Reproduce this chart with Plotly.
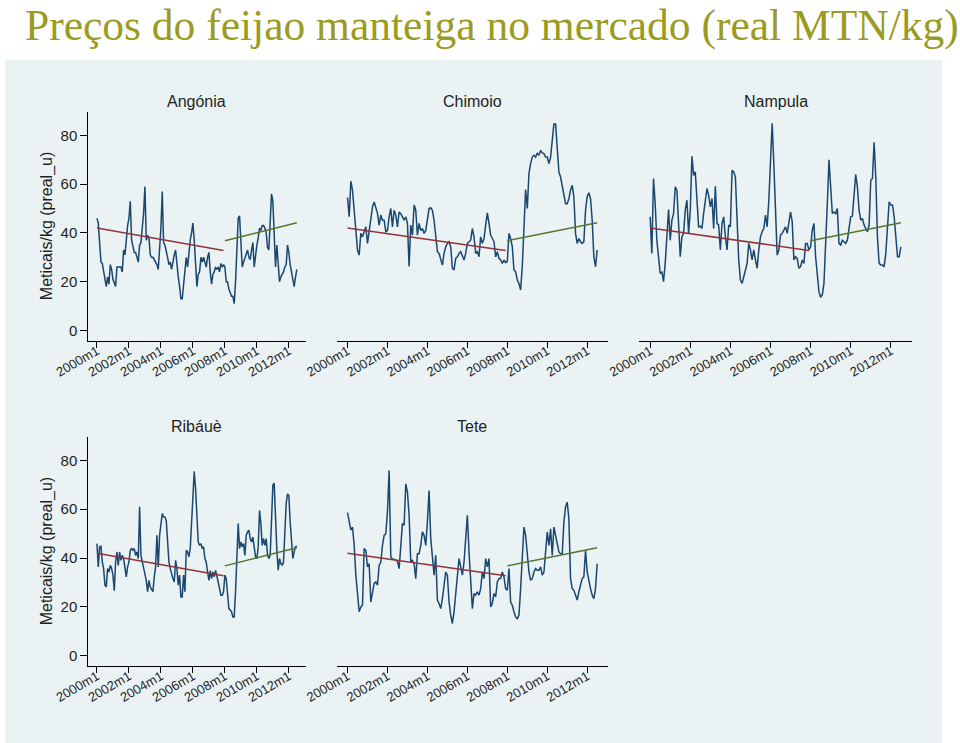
import plotly.graph_objects as go

# ---------------- data ----------------
n_months = 151  # 2000m1 .. 2012m7
months = list(range(n_months))
tick_months = [0, 24, 48, 72, 96, 120, 144]
tick_labels = ["2000m1", "2002m1", "2004m1", "2006m1", "2008m1", "2010m1", "2012m1"]

markets = ["Angónia", "Chimoio", "Nampula", "Ribáuè", "Tete"]

angonia = [46, 44, 36, 28, 27.5, 24, 21, 18, 22, 19, 27, 25, 21, 19, 18, 26, 26, 26, 26, 24,
           33, 31, 38, 43, 46, 53, 37, 35, 32, 32, 30, 28, 35, 36, 42, 48, 59, 37, 39, 38,
           31, 30, 30, 29, 28, 27, 25, 32, 42, 57, 36, 35, 33, 30, 27, 28, 25, 29, 31, 33,
           26, 22, 18, 13, 13, 19, 27, 30, 26, 32, 37, 40, 44, 37, 24, 18, 23, 24, 30, 28,
           30, 28, 26, 30, 32, 24, 19, 23, 24, 26, 25, 26, 24, 27.5, 26, 27, 26, 20, 20, 17,
           15, 14, 14, 11, 20, 36, 46, 47, 38, 26, 28, 30, 32, 33, 30, 29, 33, 36, 26, 32,
           35, 38, 42, 41, 43, 43, 42, 40, 34, 33, 44, 56, 53, 40, 26, 35, 28, 20, 22, 23,
           24, 26, 27, 35, 32, 27, 24, 20, 18, 22, 25]

chimoio = [54.5, 46.6, 61.2, 57.5, 49.3, 39.8, 33, 30.9, 39.8, 38.4,
           40.5, 42.5, 35.7, 41, 45.2, 50.7, 52.7, 50.7, 48, 43.2,
           47.3, 45.2, 45.2, 40.5, 41, 46.6, 50, 42.5, 49.3, 47.3,
           42.5, 48.6, 47.9, 46.6, 45.2, 46.6, 43.9, 26.2, 43.2, 39.1,
           51.4, 49.3, 39.1, 43.9, 41, 41.8, 39.8, 41, 46.6, 50,
           50.3, 49.3, 45.2, 39.8, 32.3, 31.6, 28.9, 26.8, 31.6, 34.3,
           35.7, 36.4, 34.3, 25.5, 24.8, 29.6, 30.2, 31.6, 32.3, 30.2,
           28.9, 31.6, 35.7, 36.4, 37, 41.8, 38.4, 31.6, 32.3, 30.2,
           38.4, 35.7, 37.7, 43.2, 48.2, 43.9, 39.1, 37.7, 36.4, 30.2,
           32.3, 29.6, 28.9, 27.5, 28.9, 27.8, 28.2, 39.8, 37.7, 34.3,
           24.8, 24.1, 20.7, 19.3, 16.6, 26.2, 41.1, 57.8, 50, 64.3,
           68.4, 71.1, 71.8, 71.1, 72.8, 71.8, 73.8, 72.8, 72.5, 71.1,
           71.1, 68.4, 71.1, 78.6, 84.7, 84.7, 75.2, 65, 62.9, 59.5,
           55.4, 52, 52, 54.1, 57.5, 59.5, 54.8, 39.8, 35.7, 37.7,
           36.4, 35.7, 36.4, 49.3, 54.8, 56.5, 54.1, 45.2, 30.2, 26.2,
           33]

nampula = [46.6, 31.6, 62.3, 52, 37, 30.2, 23.4, 24.1, 20, 27.5,
           38.4, 49.6, 37, 45.2, 47.9, 58.9, 57.5, 41.1, 30.2, 38.4,
           39.8, 49.3, 53.4, 39.8, 49.3, 71.4, 63.6, 65, 54.8, 42.5,
           42.8, 41.8, 48, 53.4, 58.2, 55.4, 50.7, 54.1, 41.8, 59.1,
           43.9, 43.2, 33, 43.9, 46.6, 38.4, 33, 43.2, 42.5, 65.7,
           65, 62.9, 42.5, 28.9, 20.7, 19.3, 22, 24.8, 27.5, 35.7,
           33, 28.9, 33, 28.9, 25.5, 33, 38.4, 40.5, 41.8, 47.3,
           42.5, 53.4, 69.8, 85, 68.4, 45.2, 30.9, 33, 39.1, 39.8,
           41.1, 42.5, 39.8, 45.2, 48.6, 44.5, 28.9, 30.2, 29.6, 25.5,
           26.2, 28.9, 27.5, 35.7, 35.7, 33, 34.3, 41.1, 43.9, 30.2,
           22, 15.9, 13.6, 14.6, 19.3, 33, 52, 70, 58.9, 48,
           48.6, 47.9, 50, 35.7, 35, 37, 36.4, 35.7, 37, 42.5,
           46.6, 46.9, 56.1, 64, 58.9, 49.3, 45.2, 45.9, 43.2, 41.8,
           40.5, 43.2, 61.6, 62.3, 77.2, 63, 38.4, 27.5, 26.8, 26.8,
           26.2, 31.6, 42.5, 52.7, 51.4, 51.4, 46.6, 38.4, 30.2, 30.2,
           34.3]

ribaue = [45.9, 36.4, 44.6, 44.8, 38.4, 35.7, 28.9, 28.2, 35.7, 34.3,
          37, 35.7, 33, 26.6, 38.4, 42.5, 37, 42.5, 39.1, 41.1,
          39.8, 35.7, 32.3, 36.4, 38.4, 43.2, 43.9, 43.2, 43.9, 41.1,
          42.5, 39.8, 61, 41.1, 38.4, 35.7, 32.3, 30.9, 26.2, 30.9,
          28.2, 26.8, 26.2, 32.3, 36.4, 49.3, 36.4, 49.3, 54.1, 58.2,
          56.8, 56.8, 55.4, 45.2, 38.4, 35.7, 33, 31.6, 30.2, 39.1,
          35.7, 28.9, 33, 24.1, 24.1, 33, 26.2, 43.2, 42.5, 40.5,
          43.9, 56.1, 64.3, 75.5, 68.4, 56.1, 46.6, 45.2, 45.9, 43.9,
          44.6, 39.8, 38.4, 34.3, 30.9, 34.9, 31.6, 34.3, 32.3, 34.9,
          32.9, 30.2, 27.5, 24.8, 24.8, 26.2, 33, 31.6, 25.5, 19.3,
          18.7, 18, 15.9, 15.9, 26.2, 38.4, 54.1, 43.9, 46.6, 44.6,
          45.9, 41.1, 49.3, 50.7, 51.4, 47.9, 46.6, 48.6, 43.9, 40.5,
          39.8, 44.6, 59.5, 54.1, 45.2, 48, 45.2, 48, 41.1, 39.8,
          41.1, 61, 69.8, 70.7, 52.7, 43.2, 35, 39.8, 37.7, 37,
          38.4, 49.3, 62.3, 66.3, 65.6, 54.8, 45.2, 39.8, 42.5, 44.6,
          45]

tete = [58.6, 55.4, 51.4, 52.7, 45.2, 33, 24.8, 18, 20, 20.7,
        43.9, 43.2, 36.4, 37.7, 22, 26.2, 29.6, 30.2, 28.9, 37,
        38.4, 45.2, 49.3, 50, 58.9, 75.9, 40.5, 39.5, 39.5, 39.1,
        38.8, 35.7, 45.2, 54.1, 53.4, 70.4, 67, 57.5, 38.4, 39.1,
        37.7, 31.6, 41.8, 41.8, 45.2, 50.7, 49.3, 45.2, 54.8, 67.7,
        48, 38.4, 33, 41.1, 22.8, 21.4, 19.3, 23.4, 28.9, 34.3,
        33, 22, 16.6, 13.2, 18, 24.8, 30.2, 39.8, 36.4, 33,
        38.4, 46.6, 57.5, 42.5, 30.2, 19.3, 25.5, 24.8, 26.2, 24.8,
        27.5, 34.3, 31.6, 39.8, 36.4, 39.8, 20, 21.4, 25.5, 24.1,
        30.2, 31.6, 31.6, 34.3, 32.3, 27.5, 26.8, 35.7, 22, 20.7,
        18, 15.9, 15.2, 16.6, 27.5, 39.8, 52.7, 49.3, 42.5, 34.3,
        30.9, 31.6, 34.3, 35.7, 35, 35, 36.4, 33, 34.3, 43.9,
        50.7, 45.2, 52, 41.1, 52.7, 49.3, 45.2, 42.5, 41.8, 41.8,
        54.8, 60.9, 62.9, 56.1, 31.6, 27.5, 26.8, 24.8, 22.8, 26.2,
        29.6, 31.6, 32.3, 43.2, 34.3, 30.2, 27.5, 24.8, 23.4, 27.5,
        37.7]

series = [angonia, chimoio, nampula, ribaue, tete]

# trend lines (pre-2008 and post-2008 fits), same in every panel
trend_pre_months = [0, 95]
trend_pre_values = [42.0, 32.8]
trend_post_months = [96, 150]
trend_post_values = [36.8, 44.2]

y_ticks = [0, 20, 40, 60, 80]

# ---------------- layout helpers ----------------
W, H = 960, 743
def px_x(v):
    return v / W
def px_y(v):
    return 1 - v / H

# plot-area boxes in pixels: (left, right, top, bottom)
boxes = [
    (88.3, 305.5, 111.7, 340.7),
    (336.7, 608.0, 111.7, 340.7),
    (639.3, 911.7, 111.7, 340.7),
    (88.3, 305.5, 436.7, 666.0),
    (336.7, 608.0, 436.7, 666.0),
]
show_y = [True, False, False, True, False]

NAVY = "#1a476f"
MAROON = "#90353b"
GREEN = "#55752f"
BG = "#eaf2f3"
TXT = "#1e1e1e"

fig = go.Figure()
layout = dict(
    width=W, height=H,
    margin=dict(l=0, r=0, t=0, b=0, pad=0, autoexpand=False),
    paper_bgcolor="white",
    plot_bgcolor="white",
    showlegend=False,
    font=dict(family="Arial, Liberation Sans, sans-serif", color=TXT),
)

annotations = []
for i, (name, vals) in enumerate(zip(markets, series)):
    k = i + 1
    xa = "x" if k == 1 else f"x{k}"
    ya = "y" if k == 1 else f"y{k}"
    fig.add_trace(go.Scatter(x=months, y=vals, mode="lines",
                             line=dict(color=NAVY, width=1.5),
                             xaxis=xa, yaxis=ya, hoverinfo="skip"))
    fig.add_trace(go.Scatter(x=trend_pre_months, y=trend_pre_values, mode="lines",
                             line=dict(color=MAROON, width=1.5),
                             xaxis=xa, yaxis=ya, hoverinfo="skip"))
    fig.add_trace(go.Scatter(x=trend_post_months, y=trend_post_values, mode="lines",
                             line=dict(color=GREEN, width=1.5),
                             xaxis=xa, yaxis=ya, hoverinfo="skip"))
    l, r, t, b = boxes[i]
    xkey = "xaxis" if k == 1 else f"xaxis{k}"
    ykey = "yaxis" if k == 1 else f"yaxis{k}"
    layout[xkey] = dict(
        domain=[px_x(l), px_x(r)], anchor=ya, range=[-6.5, 156.5],
        tickvals=tick_months, ticktext=tick_labels, tickangle=-30,
        tickfont=dict(size=13, color=TXT), ticklabelstandoff=-9,
        showline=True, linecolor="black", linewidth=1,
        ticks="outside", ticklen=6, tickcolor="black",
        showgrid=False, zeroline=False, fixedrange=True, automargin=False,
    )
    layout[ykey] = dict(
        domain=[px_y(b), px_y(t)], anchor=xa, range=[-4.2, 89.7],
        tickvals=y_ticks, showgrid=True, gridcolor=BG, gridwidth=1,
        zeroline=False, fixedrange=True, automargin=False,
        showline=show_y[i], linecolor="black", linewidth=1,
        ticks="outside" if show_y[i] else "", ticklen=7, tickcolor="black",
        showticklabels=show_y[i], tickfont=dict(size=15, color=TXT),
    )
    annotations.append(dict(
        text=name, x=px_x((l + r) / 2), y=px_y(t - 10.5), xref="paper", yref="paper",
        xanchor="center", yanchor="middle", showarrow=False,
        font=dict(size=16, color=TXT),
    ))
    if show_y[i]:
        annotations.append(dict(
            text="Meticais/kg (preal_u)", x=px_x(47), y=px_y((t + b) / 2),
            xref="paper", yref="paper", xanchor="center", yanchor="middle",
            textangle=-90, showarrow=False, font=dict(size=16, color=TXT),
        ))

annotations.append(dict(
    text="Preços do feijao manteiga no mercado (real MTN/kg)",
    x=px_x(24), y=px_y(0), xref="paper", yref="paper",
    xanchor="left", yanchor="top", showarrow=False, borderpad=0,
    font=dict(family="Liberation Serif, serif", size=43.5, color="#9b9b1f"),
))
layout["annotations"] = annotations
layout["shapes"] = [dict(
    type="rect", xref="paper", yref="paper", layer="below",
    x0=px_x(5), x1=px_x(942), y0=px_y(743), y1=px_y(60),
    fillcolor=BG, line=dict(width=0),
)]

fig.update_layout(**layout)
# remove the default 8px page margin so the 960x743 figure fills the window exactly
fig.write_html("out.html", config={"displayModeBar": False},
               post_script="document.body.style.margin='0px';")
